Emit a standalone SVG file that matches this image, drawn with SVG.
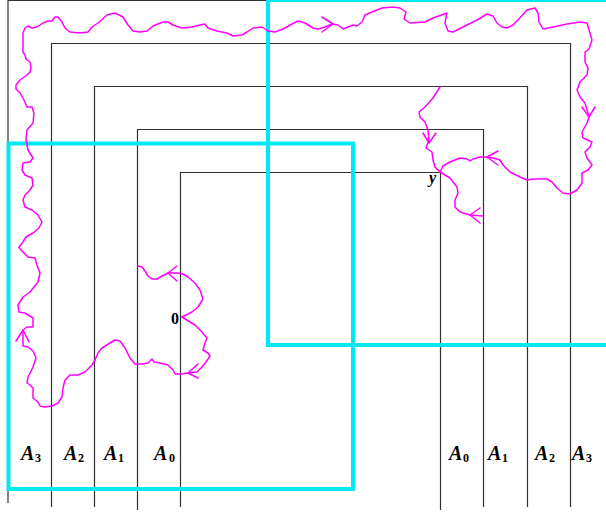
<svg xmlns="http://www.w3.org/2000/svg" width="606" height="516" viewBox="0 0 606 516">
<style>
.frame{fill:none;stroke:#333;stroke-width:1.2}
.cyan{fill:none;stroke:#00e8f0;stroke-width:4}
.walk{fill:none;stroke:#ff00ff;stroke-width:1.5;stroke-linejoin:round;stroke-linecap:round}
.A{font-family:"Liberation Serif",serif;font-weight:bold;font-style:italic;font-size:20px;fill:#000}
.sub{font-style:normal;font-size:12px}
.pt{font-family:"Liberation Serif",serif;font-weight:bold;font-size:16px;fill:#000}
</style>
<rect width="606" height="516" fill="#fff"/>
<g id="frames">
<polyline class="frame" points="8,503 8,0.5 606,0.5" stroke="#aaa"/>
<polyline class="frame" points="51.5,507 51.5,43.5 570.5,43.5 570.5,507"/>
<polyline class="frame" points="94.5,507 94.5,86.5 527.5,86.5 527.5,507"/>
<polyline class="frame" points="137.5,510 137.5,129.5 483.5,129.5 483.5,507"/>
<polyline class="frame" points="180.5,507 180.5,172.5 440.5,172.5 440.5,510"/>
</g>
<g id="regions">
<rect id="box-left" class="cyan" x="8.5" y="143.5" width="344.5" height="345.5"/>
<rect id="box-right" class="cyan" x="268" y="0" width="400" height="345"/>
</g>
<g id="connectors">
<path class="walk" d="M182,317 L192,312 198,307 203,299 200,290 195,283 188,277 183,274 177,273 168,273 162,276 157,279 152,279 148,276 145,271 142,267 138,266"/>
<path class="walk" d="M182,317 L190,322 195,325 198,328 202,332 207,338 205,343 203,350 208,353 210,356 206,362 202,367 197,372 188,373 182,374 175,374 173,370 168,365 160,363 154,362 152,359 148,363 142,364 135,364 130,358 125,348 120,341 115,340 110,343 102,348 98,353 95,360 92,365 85,372 78,375 70,375 65,380 63,388 62,397 58,403 52,406 45,407 40,406 38,402 33,398 33,388 30,385 27,383 28,377 33,367 36,358 33,351 28,347 23,346 23,337 23,330 27,327 33,327 33,318 25,313 19,312 18,305 23,297 30,292 38,282 40,273 37,265 35,258 28,257 21,250 19,247 23,242 26,237 33,233 39,228 42,222 38,215 32,210 25,207 23,200 25,195 30,190 33,185 32,178 25,175 22,170 23,163 30,162 33,158 28,150 26,140 27,130 33,123 34,113 32,107 27,107 24,100 20,93 16,89 16,85 20,80 27,75 30,72 31,68 30,62 26,59 25,55 23,52 23,43 23,33 25,28 28,26 32,28 37,27 43,23 48,21 52,21 55,17 58,17 62,22 65,28 70,32 80,33 88,32 92,27 98,23 107,15 115,13 123,17 128,25 133,31 140,32 147,31 153,26 163,22 168,22 173,25 182,28 192,27 200,25 205,24 208,28 217,31 227,33 233,36 242,35 247,32 253,28 262,27 268,31 275,32 283,29 292,24 298,21 305,23 313,28 318,29 325,27 332,24 338,25 343,29 348,27 353,25 357,26 362,22 365,15 372,12 382,8 393,7 400,8 406,12 404,19 410,23 425,22 433,18 447,13 445,23 448,31 453,32 463,27 477,20 487,14 493,16 497,23 502,27 507,28 513,25 518,20 527,10 535,8 538,13 539,22 543,29 553,27 567,24 580,22 587,23 589,30 592,40 589,49 585,52 585,62 588,68 587,75 580,82 577,90 580,97 585,103 588,113 589,117 587,123 582,132 583,138 592,142 590,147 585,152 587,158 592,165 588,170 582,173 582,183 577,190 570,194 563,193 557,188 552,182 547,179 533,179 527,180 520,177 510,172 503,165 500,160 493,158 487,157 480,157 473,159 470,161 467,159 460,158 450,162 443,166 440,172"/>
<path class="walk" d="M440,87 L433,98 425,107 419,112 420,117 425,122 428,130 429,140 427,145 426,148 432,152 433,160 435,167 440,172"/>
<path class="walk" d="M440,172 L450,178 457,187 458,193 455,200 455,207 460,212 470,215 483,216"/>
<g id="arrowheads">
<polyline class="walk" points="177,266 168,273 177,281"/>
<polyline class="walk" points="198,364 188,373 198,378"/>
<polyline class="walk" points="16,341 23,330 29,342"/>
<polyline class="walk" points="322,17 333,24 322,32"/>
<polyline class="walk" points="582,107 589,117 595,107"/>
<polyline class="walk" points="498,151 487,157 498,165"/>
<polyline class="walk" points="423,133 429,143 436,133"/>
<polyline class="walk" points="480,208 470,215 480,223"/>
</g>
</g>
<g id="point-0"><text class="pt" x="179" y="324" text-anchor="end" font-size="17.5">0</text></g>
<g id="point-y"><text class="pt" x="436" y="183" text-anchor="end" font-style="italic">y</text></g>
<g id="labels-left">
<text class="A" x="21" y="460">A<tspan class="sub" x="35" y="462">3</tspan></text>
<text class="A" x="64" y="460">A<tspan class="sub" x="78" y="462">2</tspan></text>
<text class="A" x="104" y="460">A<tspan class="sub" x="118" y="462">1</tspan></text>
<text class="A" x="154" y="460">A<tspan class="sub" x="169" y="462">0</tspan></text>
</g>
<g id="labels-right">
<text class="A" x="449" y="460">A<tspan class="sub" x="463" y="462">0</tspan></text>
<text class="A" x="488" y="460">A<tspan class="sub" x="502" y="462">1</tspan></text>
<text class="A" x="535" y="460">A<tspan class="sub" x="549" y="462">2</tspan></text>
<text class="A" x="572" y="460">A<tspan class="sub" x="586" y="462">3</tspan></text>
</g>
</svg>
